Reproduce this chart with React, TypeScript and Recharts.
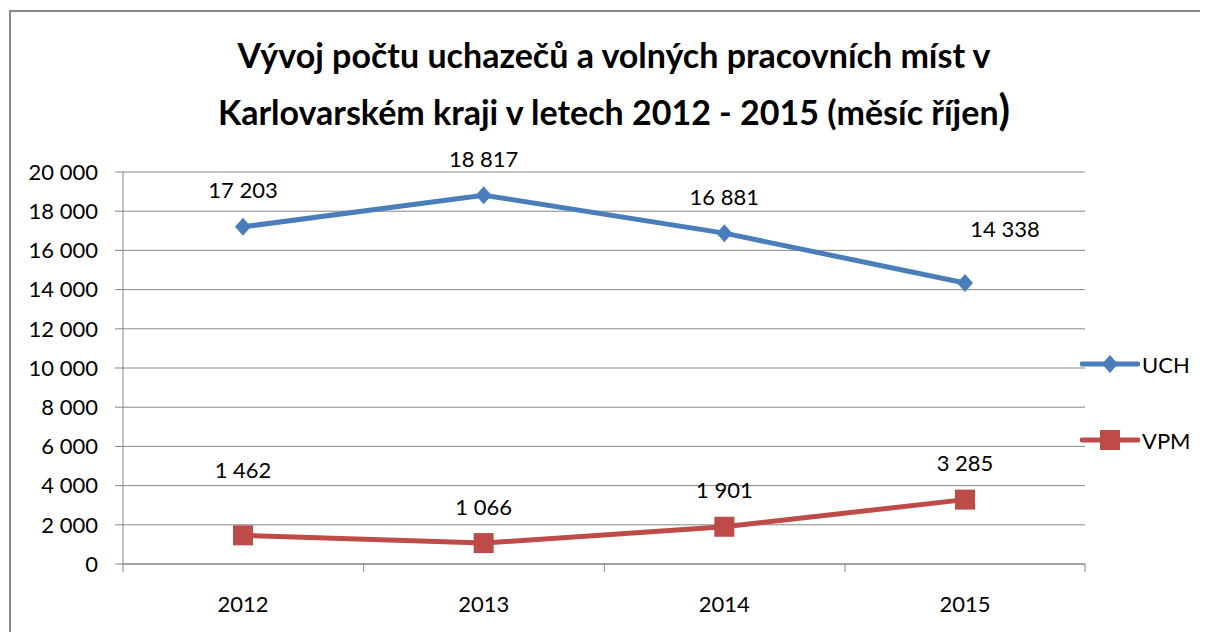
import React from "react";
import {
  LineChart,
  Line,
  XAxis,
  YAxis,
  CartesianGrid,
  Legend,
  LabelList,
} from "recharts";

const years = ["2012", "2013", "2014", "2015"];
const uch = [17203, 18817, 16881, 14338];
const vpm = [1462, 1066, 1901, 3285];
const yTicks = [0, 2000, 4000, 6000, 8000, 10000, 12000, 14000, 16000, 18000, 20000];

const data = years.map((year, i) => ({ year, UCH: uch[i], VPM: vpm[i] }));

const FONT = "Lato, 'Open Sans', sans-serif";
const GRID = "#868686";
const BLUE = "#4a7ebb";
const RED = "#be4b48";
const PAD = 120; // half a category band, points sit mid-band

// a couple of labels sit off their usual spot in the original
const nudges: Record<string, Record<number, [number, number]>> = {
  UCH: { 3: [40, -17] },
  VPM: { 0: [0, -29] },
};

function fmt(n: number) {
  return String(n).replace(/\B(?=(\d{3})+(?!\d))/g, " ");
}

function Diamond({ cx, cy, fill }: any) {
  if (cx == null || cy == null) return null;
  return (
    <path
      d={`M${cx},${cy - 9} L${cx + 8},${cy} L${cx},${cy + 9} L${cx - 8},${cy} Z`}
      fill={fill}
    />
  );
}

function Square({ cx, cy, fill }: any) {
  if (cx == null || cy == null) return null;
  return <rect x={cx - 10} y={cy - 10} width={20} height={20} fill={fill} />;
}

function makeLabel(series: string) {
  return (props: any) => {
    const { x, y, value, index } = props;
    const [dx, dy] = nudges[series][index] || [0, 0];
    return (
      <text
        x={x + dx}
        y={y - 37 + dy}
        textAnchor="middle"
        dominantBaseline="central"
        fontSize={22}
        fontFamily={FONT}
        fill="#000"
      >
        {fmt(value)}
      </text>
    );
  };
}

function YearTick(props: any) {
  const { x, y, payload, index } = props;
  const axisY = y - 8;
  return (
    <g>
      <line x1={x - PAD} y1={axisY} x2={x - PAD} y2={axisY + 8} stroke={GRID} />
      {index === years.length - 1 && (
        <line x1={x + PAD} y1={axisY} x2={x + PAD} y2={axisY + 8} stroke={GRID} />
      )}
      <text
        x={x}
        y={y + 40}
        textAnchor="middle"
        fontSize={22}
        fontFamily={FONT}
        fill="#000"
      >
        {payload.value}
      </text>
    </g>
  );
}

function LegendBox({ payload }: any) {
  return (
    <div style={{ fontFamily: FONT, fontSize: 22 }}>
      {(payload || []).map((p: any) => (
        <div
          key={p.value}
          style={{ display: "flex", alignItems: "center", height: 26, marginBottom: 50 }}
        >
          <svg width={60} height={26}>
            <line x1={2} y1={13} x2={58} y2={13} stroke={p.color} strokeWidth={5} strokeLinecap="round" />
            {p.value === "UCH" ? (
              <Diamond cx={30} cy={13} fill={p.color} />
            ) : (
              <Square cx={30} cy={13} fill={p.color} />
            )}
          </svg>
          <span style={{ marginLeft: 2, color: "#000" }}>{p.value}</span>
        </div>
      ))}
    </div>
  );
}

export default function App() {
  return (
    <div
      style={{
        position: "relative",
        width: 1194,
        height: 640,
        marginLeft: 1,
        marginTop: 2,
        border: "2px solid #898989",
        boxSizing: "border-box",
        background: "#fff",
      }}
    >
      <div
        style={{
          position: "absolute",
          left: 0,
          width: 1206,
          top: 16,
          textAlign: "center",
          fontFamily: FONT,
          fontWeight: 700,
          fontSize: 34,
          lineHeight: "54px",
          color: "#000",
        }}
      >
        Vývoj počtu uchazečů a volných pracovních míst v
        <br />
        Karlovarském kraji v letech 2012 - 2015 (měsíc říjen
        <span style={{ fontSize: 42, lineHeight: "54px" }}>)</span>
      </div>
      <LineChart
        width={1190}
        height={636}
        data={data}
        margin={{ top: 160, right: 116, bottom: 24, left: 12 }}
      >
        <CartesianGrid vertical={false} stroke={GRID} strokeWidth={1} />
        <XAxis
          dataKey="year"
          height={60}
          padding={{ left: PAD, right: PAD }}
          axisLine={{ stroke: GRID }}
          tickLine={false}
          tickSize={8}
          tickMargin={0}
          interval={0}
          tick={<YearTick />}
        />
        <YAxis
          width={100}
          domain={[0, 20000]}
          ticks={yTicks}
          interval={0}
          tickFormatter={(v: number) => fmt(v)}
          axisLine={{ stroke: GRID }}
          tickLine={{ stroke: GRID }}
          tickSize={8}
          tickMargin={17}
          tick={{ fontSize: 22, fill: "#000", fontFamily: FONT }}
        />
        <Legend
          layout="horizontal"
          verticalAlign="middle"
          align="center"
          content={<LegendBox />}
          wrapperStyle={{ position: "absolute", left: 1069, top: 339, width: 120 }}
        />
        <Line
          type="linear"
          dataKey="UCH"
          stroke={BLUE}
          strokeWidth={5}
          dot={<Diamond fill={BLUE} />}
          activeDot={false}
          isAnimationActive={false}
        >
          <LabelList dataKey="UCH" content={makeLabel("UCH")} />
        </Line>
        <Line
          type="linear"
          dataKey="VPM"
          stroke={RED}
          strokeWidth={5}
          dot={<Square fill={RED} />}
          activeDot={false}
          isAnimationActive={false}
        >
          <LabelList dataKey="VPM" content={makeLabel("VPM")} />
        </Line>
      </LineChart>
    </div>
  );
}
